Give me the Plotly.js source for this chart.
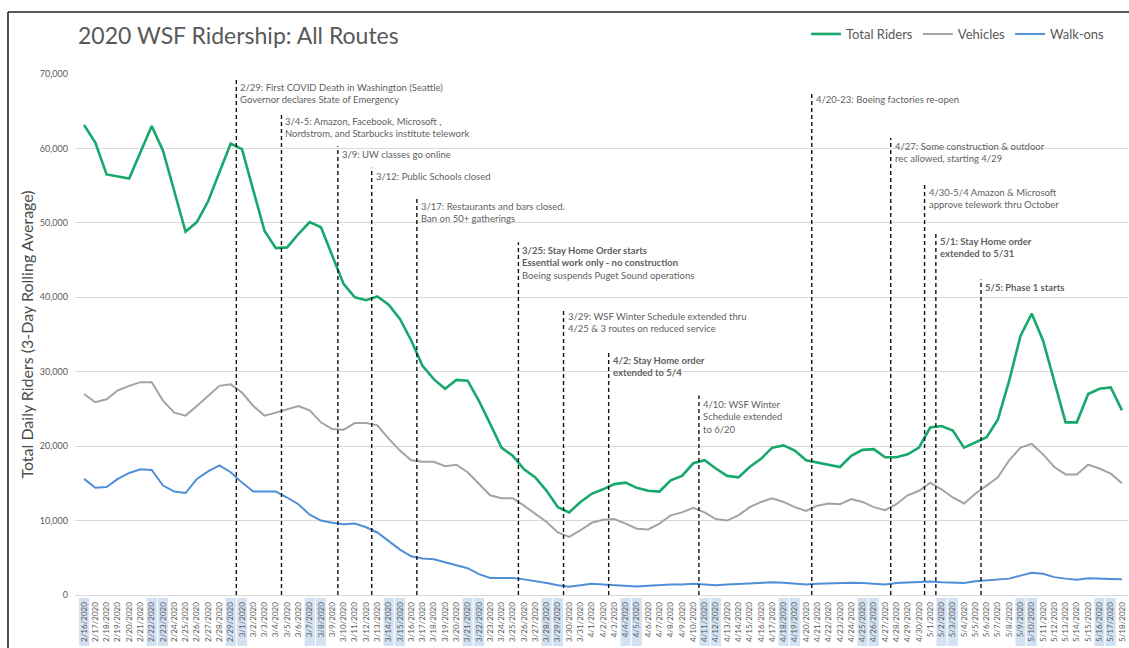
<!DOCTYPE html>
<html>
<head>
<meta charset="utf-8">
<script src="https://cdn.plot.ly/plotly-3.0.1.min.js"></script>
<style>
  html, body { margin: 0; padding: 0; background: #fff; }
  #chart { width: 1129px; height: 648px; }
</style>
</head>
<body>
<div id="chart"></div>
<script>
// ---- data ----
const dates = [
  '2020-02-16','2020-02-17','2020-02-18','2020-02-19','2020-02-20','2020-02-21','2020-02-22','2020-02-23','2020-02-24','2020-02-25',
  '2020-02-26','2020-02-27','2020-02-28','2020-02-29','2020-03-01','2020-03-02','2020-03-03','2020-03-04','2020-03-05','2020-03-06',
  '2020-03-07','2020-03-08','2020-03-09','2020-03-10','2020-03-11','2020-03-12','2020-03-13','2020-03-14','2020-03-15','2020-03-16',
  '2020-03-17','2020-03-18','2020-03-19','2020-03-20','2020-03-21','2020-03-22','2020-03-23','2020-03-24','2020-03-25','2020-03-26',
  '2020-03-27','2020-03-28','2020-03-29','2020-03-30','2020-03-31','2020-04-01','2020-04-02','2020-04-03','2020-04-04','2020-04-05',
  '2020-04-06','2020-04-07','2020-04-08','2020-04-09','2020-04-10','2020-04-11','2020-04-12','2020-04-13','2020-04-14','2020-04-15',
  '2020-04-16','2020-04-17','2020-04-18','2020-04-19','2020-04-20','2020-04-21','2020-04-22','2020-04-23','2020-04-24','2020-04-25',
  '2020-04-26','2020-04-27','2020-04-28','2020-04-29','2020-04-30','2020-05-01','2020-05-02','2020-05-03','2020-05-04','2020-05-05',
  '2020-05-06','2020-05-07','2020-05-08','2020-05-09','2020-05-10','2020-05-11','2020-05-12','2020-05-13','2020-05-14','2020-05-15',
  '2020-05-16','2020-05-17','2020-05-18'
];

const totalRiders = [
  63150, 60800, 56500, 56200, 55950, 59500, 63000, 59700, 54300, 48800,
  50100, 52900, 56800, 60650, 59900, 54500, 48900, 46600, 46700, 48500,
  50100, 49400, 45500, 41800, 40000, 39600, 40100, 39000, 37100, 34200,
  30800, 29000, 27700, 28900, 28800, 26100, 23000, 19800, 18700, 16900,
  15800, 14000, 11800, 11100, 12500, 13600, 14200, 14900, 15100, 14400,
  14000, 13900, 15400, 16000, 17700, 18100, 17000, 16000, 15800, 17200,
  18300, 19800, 20100, 19400, 18100, 17800, 17400, 17200, 18700, 19500,
  19600, 18500, 18500, 18900, 19800, 22500, 22700, 22100, 19800, 20500,
  21200, 23600, 28800, 34800, 37800, 34200, 28600, 23200, 23200, 27000,
  27700, 27900, 24800
];

const vehicles = [
  27000, 25900, 26300, 27500, 28100, 28600, 28600, 26100, 24500, 24100,
  25400, 26800, 28100, 28300, 27200, 25400, 24100, 24500, 25000, 25400,
  24800, 23200, 22300, 22200, 23100, 23100, 22800, 21000, 19400, 18100,
  17900, 17900, 17300, 17500, 16500, 14900, 13400, 13000, 13000, 12000,
  10900, 9800, 8400, 7800, 8700, 9700, 10100, 10200, 9600, 8900,
  8800, 9600, 10700, 11100, 11700, 11100, 10200, 10000, 10700, 11800,
  12500, 13000, 12500, 11800, 11300, 12000, 12300, 12200, 12900, 12500,
  11800, 11400, 12200, 13400, 14000, 15100, 14200, 13100, 12300, 13600,
  14700, 15800, 18100, 19800, 20300, 18900, 17200, 16200, 16200, 17500,
  17000, 16300, 15000
];

const walkOns = [
  15600, 14400, 14500, 15600, 16400, 16900, 16800, 14700, 13900, 13700,
  15600, 16600, 17400, 16500, 15100, 13900, 13900, 13900, 13100, 12200,
  10800, 10000, 9700, 9500, 9600, 9100, 8400, 7300, 6100, 5200,
  4900, 4800, 4400, 4100, 3600, 2800, 2300, 2300, 2300, 2100,
  1900, 1600, 1300, 1100, 1300, 1500, 1400, 1300, 1150, 1150,
  1250, 1350, 1400, 1400, 1500, 1400, 1300, 1400, 1500, 1600,
  1650, 1700, 1650, 1500, 1400, 1500, 1550, 1600, 1650, 1600,
  1500, 1400, 1600, 1700, 1700, 1800, 1700, 1700, 1600, 1850,
  1950, 2100, 2200, 2600, 3000, 2850, 2400, 2200, 2050, 2250,
  2150, 2150, 2100
];

const seriesNames = ['Total Riders', 'Vehicles', 'Walk-ons'];

// event markers: day the dashed line is drawn on, top of the line (riders), and the note
const eventLineDates = [
  '2020-02-29','2020-03-04','2020-03-09','2020-03-12','2020-03-16','2020-03-25','2020-03-29',
  '2020-04-02','2020-04-10','2020-04-20','2020-04-27','2020-04-30','2020-05-01','2020-05-05'
];
const eventTops = [69300, 64800, 60300, 57400, 53400, 47400, 38500, 32700, 26800, 67700, 61400, 55200, 48700, 42400];
const eventTexts = [
  '2/29: First COVID Death in Washington (Seattle)<br>Governor declares State of Emergency',
  '3/4-5: Amazon, Facebook, Microsoft ,<br>Nordstrom, and Starbucks institute telework',
  '3/9: UW classes go online',
  '3/12: Public Schools closed',
  '3/17: Restaurants and bars closed.<br>Ban on 50+ gatherings',
  '<b>3/25: Stay Home Order starts</b><br><b>Essential work only - no construction</b><br>Boeing suspends Puget Sound operations',
  '3/29: WSF Winter Schedule extended thru<br>4/25 &amp; 3 routes on reduced service',
  '<b>4/2: Stay Home order</b><br><b>extended to 5/4</b>',
  '4/10: WSF Winter<br>Schedule extended<br>to 6/20',
  '4/20-23: Boeing factories re-open',
  '4/27: Some construction &amp; outdoor<br>rec allowed, starting 4/29',
  '4/30-5/4 Amazon &amp; Microsoft<br>approve telework thru October',
  '<b>5/1: Stay Home order</b><br><b>extended to 5/31</b>',
  '<b>5/5: Phase 1 starts</b>'
];

// ---- helpers ----
const DAY = 86400000;
function shiftDate(iso, days) {
  const t = Date.parse(iso + 'T00:00:00Z') + days * DAY;
  return new Date(t).toISOString().replace('Z', '');
}

const FONT = 'Lato, "Open Sans", sans-serif';
const TXT = '#595959';

// layout geometry (pixels)
const W = 1129, H = 648, ML = 75, MR = 1, MT = 74, MB = 53;
const PW = W - ML - MR, PH = H - MT - MB;
const px2x = p => (p - ML) / PW;
const py2y = p => (H - MB - p) / PH;

const traces = [
  { x: dates, y: totalRiders, name: seriesNames[0], type: 'scatter', mode: 'lines',
    line: { color: '#17a86b', width: 2.6 } },
  { x: dates, y: vehicles, name: seriesNames[1], type: 'scatter', mode: 'lines',
    line: { color: '#a3a3a3', width: 2 } },
  { x: dates, y: walkOns, name: seriesNames[2], type: 'scatter', mode: 'lines',
    line: { color: '#4e8fd8', width: 2 } }
];

const shapes = [];
const annotations = [];

// weekend highlight behind tick labels
dates.forEach(d => {
  const wd = new Date(d + 'T00:00:00Z').getUTCDay();
  if (wd === 0 || wd === 6) {
    shapes.push({ type: 'rect', xref: 'x', yref: 'paper', layer: 'below',
      x0: shiftDate(d, -0.45), x1: shiftDate(d, 0.45), y0: py2y(646), y1: py2y(598),
      fillcolor: '#d3e2f3', line: { width: 0 } });
  }
});

// event dashed lines and notes
eventLineDates.forEach((d, i) => {
  const xd = shiftDate(d, 0.5);
  shapes.push({ type: 'line', xref: 'x', yref: 'y', x0: xd, x1: xd, y0: 0, y1: eventTops[i],
    line: { color: '#111', width: 1.4, dash: '4px,3px' } });
  annotations.push({ xref: 'x', yref: 'y', x: xd, y: eventTops[i], xanchor: 'left', yanchor: 'top',
    xshift: 2, yshift: -1, align: 'left', showarrow: false, text: eventTexts[i],
    font: { family: FONT, size: 9.5, color: '#5f5f5f' } });
});

// outer frame (screenshot border)
shapes.push({ type: 'line', xref: 'paper', yref: 'paper', x0: px2x(8), x1: px2x(1130), y0: py2y(12), y1: py2y(12),
  line: { color: '#222', width: 1.6 } });
shapes.push({ type: 'line', xref: 'paper', yref: 'paper', x0: px2x(8), x1: px2x(8), y0: py2y(12), y1: py2y(650),
  line: { color: '#222', width: 1.6 } });

const layout = {
  width: W, height: H,
  margin: { l: ML, r: MR, t: MT, b: MB, pad: 0 },
  paper_bgcolor: '#fff', plot_bgcolor: '#fff',
  font: { family: FONT, color: TXT },
  title: { text: '2020 WSF Ridership: All Routes', xref: 'paper', x: px2x(78), xanchor: 'left',
    yref: 'container', y: 1 - 36 / H, yanchor: 'middle',
    font: { family: FONT, size: 23, color: '#595959' } },
  showlegend: true,
  legend: { orientation: 'h', xref: 'paper', yref: 'paper', x: px2x(1110), xanchor: 'right',
    y: py2y(34), yanchor: 'middle', font: { family: FONT, size: 13, color: '#595959' },
    bgcolor: 'rgba(0,0,0,0)', itemwidth: 30 },
  xaxis: {
    type: 'date',
    range: [shiftDate(dates[0], -0.8), shiftDate(dates[dates.length - 1], 0.53)],
    tickmode: 'linear', tick0: dates[0], dtick: DAY,
    tickformat: '%-m/%-d/%Y', tickangle: -90,
    tickfont: { family: FONT, size: 8, color: '#595959' },
    showgrid: false, zeroline: false,
    showline: true, linecolor: '#d9d9d9', linewidth: 1,
    ticks: '', ticklabelstandoff: 3, fixedrange: true
  },
  yaxis: {
    range: [0, 70000], tickmode: 'linear', tick0: 0, dtick: 10000,
    tickformat: ',d', tickfont: { family: FONT, size: 9, color: '#595959' },
    showgrid: true, gridcolor: '#d9d9d9', gridwidth: 1,
    zeroline: false, showline: false, ticks: '', ticklabelstandoff: 6,
    title: { text: 'Total Daily Riders (3-Day Rolling Average)', standoff: 2,
      font: { family: FONT, size: 16, color: '#4a4a4a' } },
    fixedrange: true
  },
  shapes: shapes,
  annotations: annotations
};

Plotly.newPlot('chart', traces, layout, { displayModeBar: false, staticPlot: true });
</script>
</body>
</html>
